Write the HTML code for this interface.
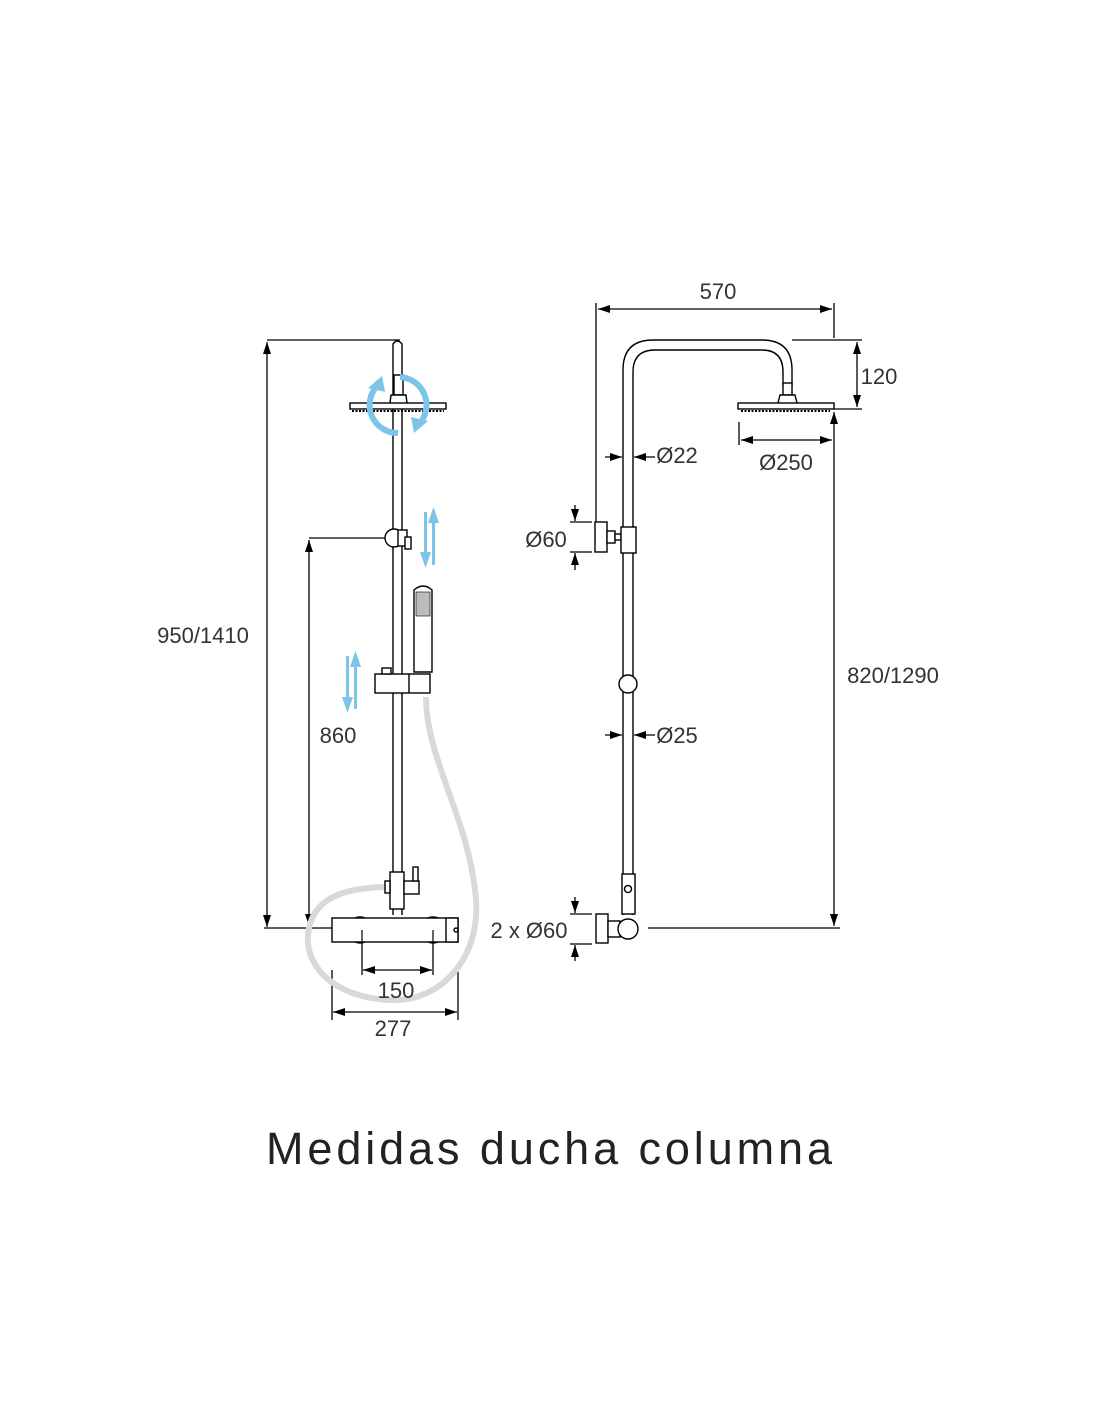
<!DOCTYPE html>
<html><head><meta charset="utf-8"><style>
html,body{margin:0;padding:0;background:#fff;}
svg{display:block;}
.t{font-family:"Liberation Sans Narrow","Liberation Sans",sans-serif;font-size:22px;fill:#333;}
</style></head><body>
<svg width="1100" height="1422" viewBox="0 0 1100 1422" xmlns="http://www.w3.org/2000/svg">
<defs>
<marker id="a" viewBox="0 0 10 10" refX="10" refY="5" markerWidth="12" markerHeight="8" markerUnits="userSpaceOnUse" orient="auto-start-reverse" preserveAspectRatio="none"><path d="M0,0 L10,5 L0,10 z" fill="#000"/></marker>
</defs>
<g stroke="#000" stroke-width="1.3" fill="none">
<line x1="267" y1="340" x2="400" y2="340"/>
<line x1="267" y1="342" x2="267" y2="927" marker-start="url(#a)" marker-end="url(#a)"/>
<line x1="264" y1="928" x2="332" y2="928"/>
<line x1="309" y1="538" x2="385" y2="538"/>
<line x1="309" y1="540" x2="309" y2="926" marker-start="url(#a)" marker-end="url(#a)"/>
<line x1="362" y1="930" x2="362" y2="975"/>
<line x1="433" y1="930" x2="433" y2="975"/>
<line x1="363" y1="970" x2="432" y2="970" marker-start="url(#a)" marker-end="url(#a)"/>
<line x1="332" y1="970" x2="332" y2="1020"/>
<line x1="458" y1="970" x2="458" y2="1020"/>
<line x1="333" y1="1012" x2="457" y2="1012" marker-start="url(#a)" marker-end="url(#a)"/>
</g>
<path d="M426,697 C426,760 470,820 476,900 C480,960 440,1000 395,1000 C340,1000 305,970 308,935 C311,900 340,888 385,887" stroke="#d9d9d9" stroke-width="6" fill="none"/>
<g stroke="#000" stroke-width="1.4" fill="#fff">
<path d="M393,915 L393,344 Q397,338 402,344 L402,915"/>
<rect x="394" y="375" width="9" height="20"/>
<path d="M390,403 L391,395 L406,395 L407,403"/>
<rect x="350" y="403" width="96" height="6"/>
<line x1="352" y1="411" x2="444" y2="411" stroke-dasharray="2,1.5" stroke-width="2"/>
<circle cx="394" cy="538" r="9"/>
<rect x="398" y="530" width="9" height="16"/>
<rect x="405" y="537" width="6" height="12"/>
<path d="M414,672 L414,590 Q423,582 432,590 L432,672 z"/>
<rect x="416" y="592" width="14" height="24" fill="#bbb" stroke-width="0.6"/>
<rect x="375" y="674" width="55" height="19"/>
<line x1="409" y1="674" x2="409" y2="693"/>
<rect x="382" y="668" width="9" height="6"/>
<rect x="390" y="872" width="14" height="37"/>
<rect x="385" y="881" width="5" height="12"/>
<rect x="404" y="881" width="15" height="13"/>
<rect x="413" y="867" width="5" height="14"/>
<circle cx="360" cy="930" r="13"/>
<circle cx="433" cy="930" r="13"/>
<rect x="332" y="918" width="126" height="24"/>
<rect x="446" y="918" width="12" height="24"/>
<circle cx="456" cy="930" r="2" fill="none"/>
</g>
<g stroke="#000" stroke-width="1.2" fill="none">
<line x1="362" y1="930" x2="362" y2="942"/>
<line x1="433" y1="930" x2="433" y2="942"/>
</g>
<g stroke="#7cc4ea" stroke-width="6" fill="none">
<path d="M378,385 A28,28 0 0 0 398,433"/>
<path d="M418,425 A28,28 0 0 0 400,377"/>
</g>
<g fill="#7cc4ea">
<path d="M368,388 L382,376 L385,392 z"/>
<path d="M428,421 L414,433 L411,417 z"/>
<rect x="424" y="512" width="3" height="45"/><path d="M420,552 L431,552 L425.5,568 z"/>
<rect x="432" y="520" width="3" height="45"/><path d="M428,523 L439,523 L433.5,507 z"/>
<rect x="346" y="656" width="3" height="45"/><path d="M342,697 L353,697 L347.5,713 z"/>
<rect x="354" y="664" width="3" height="45"/><path d="M350,667 L361,667 L355.5,651 z"/>
</g>
<g stroke="#000" stroke-width="1.3" fill="none">
<line x1="596" y1="303" x2="596" y2="522"/>
<line x1="834" y1="303" x2="834" y2="338"/>
<line x1="598" y1="309" x2="832" y2="309" marker-start="url(#a)" marker-end="url(#a)"/>
<line x1="792" y1="340" x2="862" y2="340"/>
<line x1="834" y1="409" x2="862" y2="409"/>
<line x1="857" y1="342" x2="857" y2="407" marker-start="url(#a)" marker-end="url(#a)"/>
<line x1="739" y1="422" x2="739" y2="445"/>
<line x1="741" y1="440" x2="832" y2="440" marker-start="url(#a)" marker-end="url(#a)"/>
<line x1="834" y1="412" x2="834" y2="926" marker-start="url(#a)" marker-end="url(#a)"/>
<line x1="648" y1="928" x2="840" y2="928"/>
<line x1="605" y1="457" x2="622" y2="457" marker-end="url(#a)"/>
<line x1="655" y1="457" x2="634" y2="457" marker-end="url(#a)"/>
<line x1="605" y1="735" x2="622" y2="735" marker-end="url(#a)"/>
<line x1="655" y1="735" x2="634" y2="735" marker-end="url(#a)"/>
<line x1="570" y1="522" x2="592" y2="522"/>
<line x1="570" y1="552" x2="592" y2="552"/>
<line x1="575" y1="505" x2="575" y2="521" marker-end="url(#a)"/>
<line x1="575" y1="570" x2="575" y2="553" marker-end="url(#a)"/>
<line x1="570" y1="914" x2="592" y2="914"/>
<line x1="570" y1="944" x2="592" y2="944"/>
<line x1="575" y1="897" x2="575" y2="913" marker-end="url(#a)"/>
<line x1="575" y1="961" x2="575" y2="945" marker-end="url(#a)"/>
</g>
<g stroke="#000" stroke-width="1.4" fill="#fff">
<path d="M623,915 L623,370 Q623,340 653,340 L762,340 Q792,340 792,370 L792,385 L783,385 L783,372 Q783,350 762,350 L655,350 Q633,350 633,372 L633,915"/>
<rect x="783" y="383" width="9" height="12"/>
<path d="M778,403 L780,395 L795,395 L797,403"/>
<rect x="738" y="403" width="96" height="6"/>
<line x1="741" y1="411" x2="830" y2="411" stroke-dasharray="2,1.5" stroke-width="2"/>
<rect x="595" y="522" width="12" height="30"/>
<rect x="607" y="531" width="8" height="12"/>
<rect x="615" y="534" width="6" height="6"/>
<rect x="621" y="527" width="15" height="26"/>
<circle cx="628" cy="684" r="9"/>
<rect x="622" y="874" width="13" height="40"/>
<circle cx="628" cy="889" r="3.5"/>
<rect x="596" y="914" width="12" height="29"/>
<rect x="608" y="921" width="12" height="16"/>
<circle cx="628" cy="929" r="10"/>
</g>
<text class="t" x="203" y="643" text-anchor="middle">950/1410</text>
<text class="t" x="338" y="743" text-anchor="middle">860</text>
<text class="t" x="396" y="998" text-anchor="middle">150</text>
<text class="t" x="393" y="1036" text-anchor="middle">277</text>
<text class="t" x="718" y="299" text-anchor="middle">570</text>
<text class="t" x="879" y="384" text-anchor="middle">120</text>
<text class="t" x="786" y="470" text-anchor="middle">Ø250</text>
<text class="t" x="677" y="463" text-anchor="middle">Ø22</text>
<text class="t" x="677" y="743" text-anchor="middle">Ø25</text>
<text class="t" x="546" y="547" text-anchor="middle">Ø60</text>
<text class="t" x="529" y="938" text-anchor="middle">2 x Ø60</text>
<text class="t" x="893" y="683" text-anchor="middle">820/1290</text>
<text x="549" y="1164" text-anchor="middle" textLength="566" lengthAdjust="spacing" style="font-family:'Liberation Sans',sans-serif;font-size:45px;fill:#222;">Medidas ducha columna</text>
</svg>
</body></html>
